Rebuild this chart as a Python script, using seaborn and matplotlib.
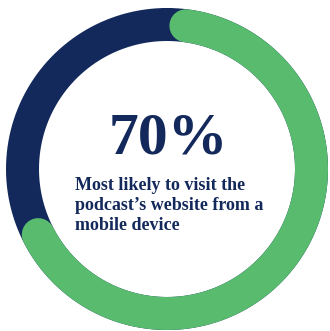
import numpy as np
import matplotlib
matplotlib.use("Agg")
import matplotlib.pyplot as plt
import seaborn as sns
import pandas as pd

sns.set_theme(style="white")

share_pct = [70]
share_labels = ["70%"]
caption_lines = ["Most likely to visit the", "podcast\u2019s website from a", "mobile device"]

NAVY = "#13295b"
GREEN = "#58bb6e"

W, H = 330, 331
fig = plt.figure(figsize=(W / 100, H / 100), dpi=100)
cx, cy, R = 167, 169, 165
ax = fig.add_axes([(cx - R) / W, (H - cy - R) / H, 2 * R / W, 2 * R / H], projection="polar")
ax.set_theta_zero_location("N")
ax.set_theta_direction(-1)
ax.set_ylim(0, R)
ax.axis("off")

r_mid = 144.5
lw = 33 * 72 / 100

full = np.linspace(0, 2 * np.pi, 361)
sns.lineplot(x=full, y=np.full_like(full, r_mid), ax=ax, color=NAVY, linewidth=lw, sort=False,
             estimator=None)

span = share_pct[0] / 100 * 360
th = np.deg2rad(np.linspace(7.5, span - 9, 300))
line = sns.lineplot(x=th, y=np.full_like(th, r_mid), ax=ax, color=GREEN, linewidth=lw, sort=False,
                    estimator=None)
ax.lines[-1].set_solid_capstyle("round")
ax.set_xlabel("")
ax.set_ylabel("")

fig.text(168 / W, 1 - 153 / H, share_labels[0], ha="center", va="baseline",
         fontsize=43, fontweight="bold", family="Liberation Serif", color=NAVY)
for i, t in enumerate(caption_lines):
    fig.text(75 / W, 1 - (190 + 20 * i) / H, t, ha="left", va="baseline",
             fontsize=13, fontweight="bold", family="Liberation Serif", color=NAVY)

fig.savefig("out.png", dpi=100)
